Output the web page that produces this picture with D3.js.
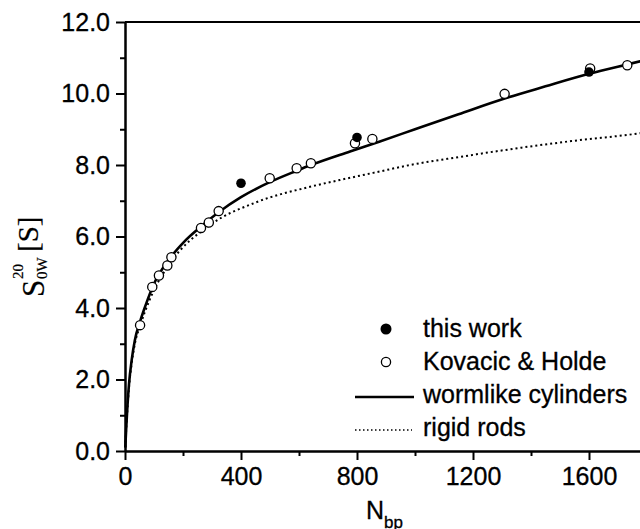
<!DOCTYPE html>
<html>
<head>
<meta charset="utf-8">
<script src="https://cdnjs.cloudflare.com/ajax/libs/d3/7.8.5/d3.min.js"></script>
<style>
  body { margin: 0; background: #fff; }
  svg { display: block; }
  .axis path, .axis line { stroke: #000; stroke-width: 2; }
  .axis text { font-family: "Liberation Sans", Arial, sans-serif; font-size: 25px; fill: #000; stroke: #000; stroke-width: 0.3; }
  .lbl { font-family: "Liberation Sans", Arial, sans-serif; fill: #000; stroke: #000; stroke-width: 0.3; }
  .serif { font-family: "Liberation Serif", "Times New Roman", serif; fill: #000; stroke: #000; stroke-width: 0.2; }
</style>
</head>
<body>
<svg id="chart" width="640" height="529"></svg>
<script>
// Sedimentation coefficient vs DNA length

// data
var thisWorkN = [400, 800, 1600]
  , thisWorkS = [7.49, 8.77, 10.60]
  ;

var kovacicN = [52, 94, 117, 146, 160, 262, 289, 323, 499, 592, 641, 793, 853, 1309, 1604, 1732]
  , kovacicS = [3.52, 4.59, 4.91, 5.19, 5.42, 6.24, 6.39, 6.71, 7.63, 7.91, 8.05, 8.61, 8.73, 9.99, 10.70, 10.79]
  ;

// wormlike cylinders (solid)
var wormN = [1, 4, 7, 14, 23, 34, 52, 69, 100, 150, 207, 262, 323, 400, 499, 592, 641, 776, 879, 1000, 1150, 1309, 1450, 1600, 1776, 1800]
  , wormS = [0.1, 0.6, 1.05, 1.89, 2.54, 3.10, 3.62, 4.03, 4.68, 5.34, 5.88, 6.28, 6.68, 7.10, 7.52, 7.84, 8.0, 8.38, 8.66, 9.0, 9.42, 9.86, 10.2, 10.55, 10.9, 10.95]
  ;

// rigid rods (dotted)
var rodN = [1, 4, 7, 14, 23, 34, 52, 69, 100, 155, 293, 450, 638, 741, 879, 983, 1150, 1328, 1550, 1776, 1800]
  , rodS = [0.1, 0.6, 1.0, 1.8, 2.45, 3.0, 3.5, 3.9, 4.5, 5.25, 6.32, 6.95, 7.39, 7.58, 7.82, 8.0, 8.22, 8.44, 8.68, 8.89, 8.92]
  ;

var xTicks = [0, 400, 800, 1200, 1600]
  , xMinor = [200, 600, 1000, 1400, 1800]
  , yTicks = [0, 2, 4, 6, 8, 10, 12]
  , yMinor = [1, 3, 5, 7, 9, 11]
  , legendLabels = ["this work", "Kovacic & Holde", "wormlike cylinders", "rigid rods"]
  ;

var plotLeft = 125, plotTop = 22, plotBottom = 451
  , pxPerUnit = 0.29   // x scale, measured from tick spacing
  ;

var svg = d3.select("#chart");

var x = d3.scaleLinear().domain([0, 1800]).range([plotLeft, plotLeft + 1800 * pxPerUnit]);
var y = d3.scaleLinear().domain([0, 12]).range([plotBottom, plotTop]);

// frame top line
svg.append("line")
   .attr("x1", plotLeft).attr("x2", 660)
   .attr("y1", plotTop).attr("y2", plotTop)
   .attr("stroke", "#000").attr("stroke-width", 2);

// axes (major + minor)
svg.append("g").attr("class", "axis")
   .attr("transform", "translate(0," + plotBottom + ")")
   .call(d3.axisBottom(x).tickValues(xTicks).tickFormat(d3.format("d"))
           .tickSize(9).tickSizeOuter(0).tickPadding(7));
svg.append("g").attr("class", "axis")
   .attr("transform", "translate(0," + plotBottom + ")")
   .call(d3.axisBottom(x).tickValues(xMinor).tickFormat("").tickSize(5).tickSizeOuter(0));

svg.append("g").attr("class", "axis")
   .attr("transform", "translate(" + plotLeft + ",0)")
   .call(d3.axisLeft(y).tickValues(yTicks).tickFormat(d3.format(".1f"))
           .tickSize(9).tickSizeOuter(0).tickPadding(6));
svg.append("g").attr("class", "axis")
   .attr("transform", "translate(" + plotLeft + ",0)")
   .call(d3.axisLeft(y).tickValues(yMinor).tickFormat("").tickSize(5).tickSizeOuter(0));

// curves
var line = d3.line()
             .x(function (d) { return x(d[0]); })
             .y(function (d) { return y(d[1]); })
             .curve(d3.curveMonotoneX);

svg.append("path")
   .datum(d3.zip(rodN, rodS))
   .attr("d", line)
   .attr("fill", "none").attr("stroke", "#000")
   .attr("stroke-width", 2).attr("stroke-dasharray", "2,3");

svg.append("path")
   .datum(d3.zip(wormN, wormS))
   .attr("d", line)
   .attr("fill", "none").attr("stroke", "#000")
   .attr("stroke-width", 2.6);

// points
svg.selectAll(".kov")
   .data(d3.zip(kovacicN, kovacicS))
   .enter().append("circle")
   .attr("class", "kov")
   .attr("cx", function (d) { return x(d[0]); })
   .attr("cy", function (d) { return y(d[1]); })
   .attr("r", 4.6)
   .attr("fill", "#fff").attr("stroke", "#000").attr("stroke-width", 1.3);

svg.selectAll(".tw")
   .data(d3.zip(thisWorkN, thisWorkS))
   .enter().append("circle")
   .attr("class", "tw")
   .attr("cx", function (d) { return x(d[0]); })
   .attr("cy", function (d) { return y(d[1]); })
   .attr("r", 4.8)
   .attr("fill", "#000");

// legend
var lgX = 386, lgTextX = 423, lgY0 = 337, lgStep = 33;
var legend = svg.append("g");
legendLabels.forEach(function (label, i) {
  var by = lgY0 + i * lgStep;
  if (i === 0) {
    legend.append("circle").attr("cx", lgX).attr("cy", by - 8).attr("r", 5.5).attr("fill", "#000");
  } else if (i === 1) {
    legend.append("circle").attr("cx", lgX).attr("cy", by - 8).attr("r", 4.6)
          .attr("fill", "#fff").attr("stroke", "#000").attr("stroke-width", 1.3);
  } else {
    legend.append("line")
          .attr("x1", 355).attr("x2", i === 2 ? 414 : 412)
          .attr("y1", by - 6).attr("y2", by - 6)
          .attr("stroke", "#000")
          .attr("stroke-width", i === 2 ? 2.6 : 1.4)
          .attr("stroke-dasharray", i === 2 ? null : "1.5,2.5");
  }
  legend.append("text")
        .attr("class", "lbl")
        .attr("x", lgTextX).attr("y", by)
        .attr("font-size", 25)
        .text(label);
});

// x label: N_bp
var xl = svg.append("text").attr("class", "lbl").attr("x", 366).attr("y", 519).attr("font-size", 25);
xl.append("tspan").text("N");
xl.append("tspan").attr("font-size", 17).attr("dy", 9).text("bp");

// y label: S^20_0W [S]
var yl = svg.append("g").attr("transform", "translate(44,297) rotate(-90)");
yl.append("text").attr("class", "serif").attr("font-size", 31).text("S");
yl.append("text").attr("class", "serif").attr("font-size", 15).attr("x", 18).attr("y", -21).text("20");
yl.append("text").attr("class", "serif").attr("font-size", 15).attr("x", 18).attr("y", 3).text("0W");
yl.append("text").attr("class", "serif").attr("font-size", 29).attr("x", 45).attr("y", -6).text("[S]");
</script>
</body>
</html>
